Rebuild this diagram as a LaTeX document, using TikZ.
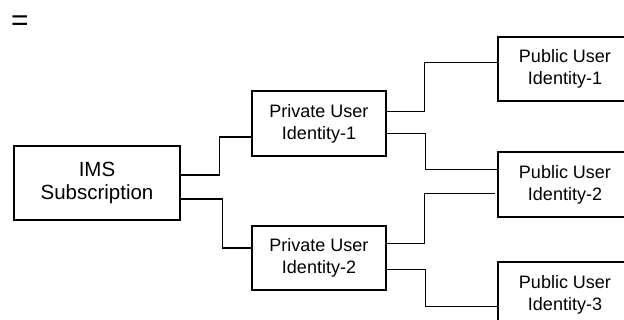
\documentclass[tikz,border=0pt]{standalone}
\usepackage{fontspec}
\setmainfont{Liberation Sans}
\usetikzlibrary{calc}
\begin{document}
\begin{tikzpicture}[x=1pt,y=-1pt,
  box/.style={draw,line width=1.1pt,rectangle,align=center,inner sep=0pt,
    font=\fontsize{18}{22}\selectfont},
  conn/.style={line width=0.9pt},
  thick conn/.style={line width=1.6pt}]
\useasboundingbox (0,0) rectangle (624,320);
\clip (0,0) rectangle (624,320);
\node[font=\fontsize{30}{30}\selectfont,inner sep=0pt] (eq) at (20,23) {=};
\node[box,minimum width=166pt,minimum height=74pt,font=\fontsize{20.5}{23.5}\selectfont] (ims) at (97,183) {IMS\\Subscription};
\node[box,minimum width=134pt,minimum height=65pt] (p1) at (319,123.5) {Private User\\Identity-1};
\node[box,minimum width=134pt,minimum height=64pt] (p2) at (319,258) {Private User\\Identity-2};
\node[box,minimum width=134pt,minimum height=64pt] (u1) at (565,69) {Public User\\Identity-1};
\node[box,minimum width=134pt,minimum height=65pt] (u2) at (565,184.5) {Public User\\Identity-2};
\node[box,minimum width=134pt,minimum height=65pt] (u3) at (565,294.5) {Public User\\Identity-3};
\draw[thick conn] (ims.east) ++(0,-8) -- ++(39,0) |- ($(p1.west)+(0,13.5)$);
\draw[thick conn] (ims.east) ++(0,16) -- ++(42,0) |- ($(p2.west)+(0,-10)$);
\draw[conn] (p1.east) ++(0,-12.5) -- ++(38,0) |- ($(u1.west)+(0,-7)$);
\draw[conn] (p1.east) ++(0,9.5) -- ++(39,0) |- ($(u2.west)+(0,-15.5)$);
\draw[conn] (p2.east) ++(0,-15) -- ++(38,0) |- ($(u2.west)+(-2,8.5)$);
\draw[conn] (p2.east) ++(0,11) -- ++(39,0) |- ($(u3.west)+(0,11.5)$);
\end{tikzpicture}
\end{document}
